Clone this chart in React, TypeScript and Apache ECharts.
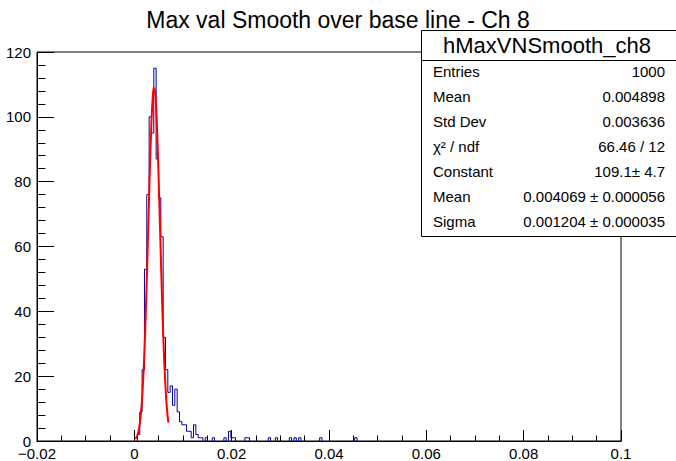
import React, { useEffect, useRef } from "react";
import * as echarts from "echarts";

// Histogram definition (250 bins over [-0.02, 0.1])
const histLow = -0.02;
const binWidth = 0.00048;
const nBins = 250;
// Counts for bins 42..72 (peak region)
const peakFirstBin = 42;
const peakCounts = [0, 2, 9, 22, 53, 76, 100, 95, 115, 87, 75, 63, 32, 22, 15, 17, 11, 16, 9, 6, 5, 5, 3, 3, 1, 5, 2, 1, 1, 0, 1];
// Sparse tail bins
const tailBins = [75, 80, 82, 83, 84, 89, 90, 99, 102, 108, 110, 112, 121, 136];
const tailCounts = [1, 1, 3, 1, 1, 1, 1, 1, 1, 1, 1, 1, 1, 1];

// Gaussian fit parameters (from stats box)
const fitConstant = 109.1;
const fitMean = 0.004069;
const fitSigma = 0.001204;
const fitRange = [0.0002, 0.007];
const fitPoints = 100;

// Axis ticks
const xTicks = [-0.02, 0, 0.02, 0.04, 0.06, 0.08, 0.1];
const xTickLabels = ["\u22120.02", "0", "0.02", "0.04", "0.06", "0.08", "0.1"];
const yTicks = [0, 20, 40, 60, 80, 100, 120];

// Texts
const titleText = "Max val Smooth over base line - Ch 8";
const statsTitle = "hMaxVNSmooth_ch8";
const statsNames = ["Entries", "Mean", "Std Dev", "\u03c7\u00b2 / ndf", "Constant", "Mean", "Sigma"];
const statsValues = ["1000", "0.004898", "0.003636", "66.46 / 12", "109.1\u00b1 4.7", "0.004069 \u00b1 0.000056", "0.001204 \u00b1 0.000035"];

const FONT = "'Liberation Sans', Arial, Helvetica, sans-serif";

export default function App() {
  const ref = useRef<HTMLDivElement>(null);
  useEffect(() => {
    if (!ref.current) return;
    const chart = echarts.init(ref.current, undefined, { renderer: "svg" });

    const counts: number[] = new Array(nBins).fill(0);
    peakCounts.forEach((c, i) => (counts[peakFirstBin + i] = c));
    tailBins.forEach((b, i) => (counts[b] = tailCounts[i]));

    // Step outline of the histogram, drawn only over runs of non-empty bins
    const histData: (number[] | null)[] = [];
    let k = 0;
    while (k < nBins) {
      if (counts[k] === 0) { k++; continue; }
      const start = k;
      histData.push([histLow + start * binWidth, 0]);
      while (k < nBins && counts[k] !== 0) {
        histData.push([histLow + k * binWidth, counts[k]]);
        histData.push([histLow + (k + 1) * binWidth, counts[k]]);
        k++;
      }
      histData.push([histLow + k * binWidth, 0]);
      histData.push(null);
    }

    const fitData: number[][] = [];
    for (let i = 0; i <= fitPoints; i++) {
      const x = fitRange[0] + ((fitRange[1] - fitRange[0]) * i) / fitPoints;
      const z = (x - fitMean) / fitSigma;
      fitData.push([x, fitConstant * Math.exp(-0.5 * z * z)]);
    }

    const L = 37, R = 621, T = 52, B = 443;
    const boxX = 421.5, boxY = 30.5, boxW = 260, boxH = 206;
    const graphics: any[] = [
      {
        type: "text",
        x: 338,
        y: 20,
        z: 100,
        style: {
          text: titleText,
          fontSize: 23,
          fontFamily: FONT,
          fill: "#000",
          textAlign: "center",
          align: "center",
          textVerticalAlign: "middle",
          verticalAlign: "middle",
        },
      },
      {
        type: "rect",
        z: 100,
        shape: { x: boxX, y: boxY, width: boxW, height: boxH },
        style: { fill: "#fff", stroke: "#000", lineWidth: 1 },
      },
      {
        type: "line",
        z: 101,
        shape: { x1: boxX, y1: 60.5, x2: 680, y2: 60.5 },
        style: { stroke: "#000", lineWidth: 1 },
      },
      {
        type: "text",
        x: 547,
        y: 45,
        z: 101,
        style: {
          text: statsTitle,
          fontSize: 22,
          fontFamily: FONT,
          fill: "#000",
          textAlign: "center",
          align: "center",
          textVerticalAlign: "middle",
          verticalAlign: "middle",
        },
      },
    ];
    statsNames.forEach((n, i) => {
      const y = 71.5 + i * 25;
      graphics.push({
        type: "text",
        x: 433,
        y,
        z: 101,
        style: { text: n, fontSize: 15, fontFamily: FONT, fill: "#000", textAlign: "left", align: "left", textVerticalAlign: "middle", verticalAlign: "middle" },
      });
      graphics.push({
        type: "text",
        x: 665,
        y,
        z: 101,
        style: { text: statsValues[i], fontSize: 15, fontFamily: FONT, fill: "#000", textAlign: "right", align: "right", textVerticalAlign: "middle", verticalAlign: "middle" },
      });
    });

    const fmtX = (v: number) => {
      const idx = xTicks.findIndex((t) => Math.abs(t - v) < 1e-9);
      return idx >= 0 ? xTickLabels[idx] : "";
    };

    chart.setOption({
      animation: false,
      backgroundColor: "#fff",
      grid: {
        left: L,
        right: 676 - R,
        top: T,
        bottom: 461 - B,
        show: true,
        borderColor: "#000",
        borderWidth: 1,
        backgroundColor: "transparent",
      },
      xAxis: {
        type: "value",
        min: xTicks[0],
        max: xTicks[xTicks.length - 1],
        interval: 0.02,
        z: 10,
        axisLine: { show: true, onZero: false, lineStyle: { color: "#000", width: 1 } },
        axisTick: { show: true, inside: true, length: 11, lineStyle: { color: "#000", width: 1 } },
        minorTick: { show: true, splitNumber: 4, length: 5.5, lineStyle: { color: "#000", width: 1 } },
        splitLine: { show: false },
        axisLabel: { fontSize: 15, fontFamily: FONT, color: "#000", margin: 5, formatter: fmtX },
      },
      yAxis: {
        type: "value",
        min: yTicks[0],
        max: yTicks[yTicks.length - 1],
        interval: 20,
        z: 10,
        axisLine: { show: true, onZero: false, lineStyle: { color: "#000", width: 1 } },
        axisTick: { show: true, inside: true, length: 17, lineStyle: { color: "#000", width: 1 } },
        minorTick: { show: true, splitNumber: 5, length: 8.5, lineStyle: { color: "#000", width: 1 } },
        splitLine: { show: false },
        axisLabel: { fontSize: 15, fontFamily: FONT, color: "#000", margin: 6 },
      },
      series: [
        {
          type: "line",
          data: histData,
          connectNulls: false,
          showSymbol: false,
          symbol: "none",
          lineStyle: { color: "#000099", width: 1 },
          z: 2,
        },
        {
          type: "line",
          data: fitData,
          showSymbol: false,
          symbol: "none",
          lineStyle: { color: "#ff0000", width: 2 },
          z: 3,
        },
      ],
      graphic: graphics,
    });
    return () => chart.dispose();
  }, []);
  return <div ref={ref} style={{ position: "fixed", left: 0, top: 0, width: 676, height: 461, background: "#fff" }} />;
}
